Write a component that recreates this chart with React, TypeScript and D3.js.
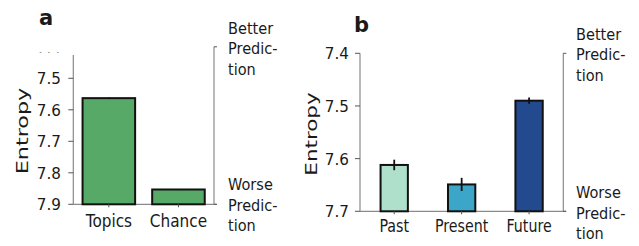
import React from "react";
import * as d3 from "d3";

// panel a: topic model entropy vs chance
const catsA = ["Topics", "Chance"];
const valsA = [7.563, 7.853];
const errA = [0.002, 0.001];
const ticksA = [7.4, 7.5, 7.6, 7.7, 7.8, 7.9];

// panel b: past / present / future
const catsB = ["Past", "Present", "Future"];
const valsB = [7.612, 7.649, 7.49];
const errB = [0.01, 0.0125, 0.006];
const ticksB = [7.4, 7.5, 7.6, 7.7];
const colorsB = ["#afe0cb", "#3ca6c9", "#234a8e"];
const colorA = "#57a968";

const FONT = "DejaVu Sans, sans-serif";
const SPINE = "#8a8a8a";

// squeezed text, the figure was resized unevenly
const Txt = ({ x, y, size, sx = 1, anchor = "start", rot = 0, bold = false, children }: any) => (
  <text
    transform={`translate(${x},${y}) rotate(${rot}) scale(${sx},1)`}
    fontSize={size}
    fontFamily={FONT}
    fontWeight={bold ? "bold" : "normal"}
    textAnchor={anchor}
    fill="#1a1a1a"
  >
    {children}
  </text>
);

const Panel = ({ cats, vals, errs, colors, ticks, y, x, yTop, clipTop, xEnd, rightX, tickLblX, xLblY, xLblSx }: any) => {
  const base = y.domain()[0];
  const x0 = x.range()[0];
  const clipId = "clip" + Math.round(x0);
  return (
    <g>
      <clipPath id={clipId}>
        <rect x={0} y={clipTop} width={700} height={300} />
      </clipPath>
      {/* left spine, cut at the top */}
      <line x1={x0} x2={x0} y1={yTop} y2={y(base)} stroke={SPINE} strokeWidth={1.2} />
      <line x1={x0} x2={xEnd} y1={y(base)} y2={y(base)} stroke={SPINE} strokeWidth={1.2} />
      {ticks.map((t: number) => (
        <g key={t} clipPath={`url(#${clipId})`}>
          {y(t) >= yTop - 0.5 && (
            <line x1={x0 - 5} x2={x0} y1={y(t)} y2={y(t)} stroke="#555" strokeWidth={1} />
          )}
          <Txt x={tickLblX} y={y(t) + 6} size={16} sx={0.95} anchor="end">
            {t.toFixed(1)}
          </Txt>
        </g>
      ))}
      {/* right bracket: better / worse prediction */}
      <line x1={rightX} x2={rightX} y1={y(7.4)} y2={y(base)} stroke={SPINE} strokeWidth={1.2} />
      <line x1={rightX} x2={rightX + 3} y1={y(7.4)} y2={y(7.4)} stroke="#555" strokeWidth={1} />
      <line x1={rightX} x2={rightX + 3} y1={y(base)} y2={y(base)} stroke="#555" strokeWidth={1} />
      {cats.map((c: string, i: number) => {
        const cx = x(c)! + x.bandwidth() / 2;
        return (
          <g key={c}>
            <rect
              x={x(c)}
              y={y(vals[i])}
              width={x.bandwidth()}
              height={y(base) - y(vals[i])}
              fill={colors[i]}
              stroke="#111"
              strokeWidth={2}
            />
            <line
              x1={cx}
              x2={cx}
              y1={y(vals[i] - errs[i])}
              y2={y(vals[i] + errs[i])}
              stroke="#111"
              strokeWidth={1.8}
            />
            <line x1={cx} x2={cx} y1={y(base)} y2={y(base) + 3} stroke="#555" strokeWidth={1} />
            <Txt x={cx} y={xLblY} size={18} sx={xLblSx} anchor="middle">
              {c}
            </Txt>
          </g>
        );
      })}
    </g>
  );
};

const Side = ({ x, top, bottom, gap }: any) => (
  <g>
    {["Better", "Predic-", "tion"].map((s, i) => (
      <Txt key={"b" + i} x={x} y={top + i * gap} size={16.5} sx={0.88}>
        {s}
      </Txt>
    ))}
    {["Worse", "Predic-", "tion"].map((s, i) => (
      <Txt key={"w" + i} x={x} y={bottom + i * gap} size={16.5} sx={0.88}>
        {s}
      </Txt>
    ))}
  </g>
);

export default function App() {
  const yA = d3.scaleLinear().domain([7.9, 7.426]).range([204.3, 55]);
  const xA = d3.scaleBand().domain(catsA).range([73.3, 214]).paddingInner(0.245).paddingOuter(0.133);
  const yB = d3.scaleLinear().domain([7.7, 7.4]).range([211.3, 53.3]);
  const xB = d3.scaleBand().domain(catsB).range([360, 563.3]).paddingInner(0.595).paddingOuter(0.305);

  return (
    <svg
      width={639}
      height={246}
      style={{ position: "absolute", left: 0, top: 0, background: "#fff" }}
    >
      <Txt x={39} y={25} size={21} bold>a</Txt>
      <Txt x={27.5} y={131} size={16.5} sx={1.35} rot={-90} anchor="middle">Entropy</Txt>
      <Panel
        cats={catsA}
        vals={valsA}
        errs={errA}
        colors={catsA.map(() => colorA)}
        ticks={ticksA}
        y={yA}
        x={xA}
        yTop={55}
        clipTop={52.5}
        xEnd={216.5}
        rightX={214}
        tickLblX={61}
        xLblY={227}
        xLblSx={0.85}
      />
      <Side x={228} top={33.5} bottom={190} gap={20.7} />

      <Txt x={354} y={31.5} size={21} bold>b</Txt>
      <Txt x={317} y={134} size={16.5} sx={1.3} rot={-90} anchor="middle">Entropy</Txt>
      <Panel
        cats={catsB}
        vals={valsB}
        errs={errB}
        colors={colorsB}
        ticks={ticksB}
        y={yB}
        x={xB}
        yTop={53.3}
        clipTop={0}
        xEnd={566}
        rightX={563.3}
        tickLblX={349}
        xLblY={231.5}
        xLblSx={0.79}
      />
      <Side x={576} top={39.5} bottom={198.3} gap={20.5} />
    </svg>
  );
}
